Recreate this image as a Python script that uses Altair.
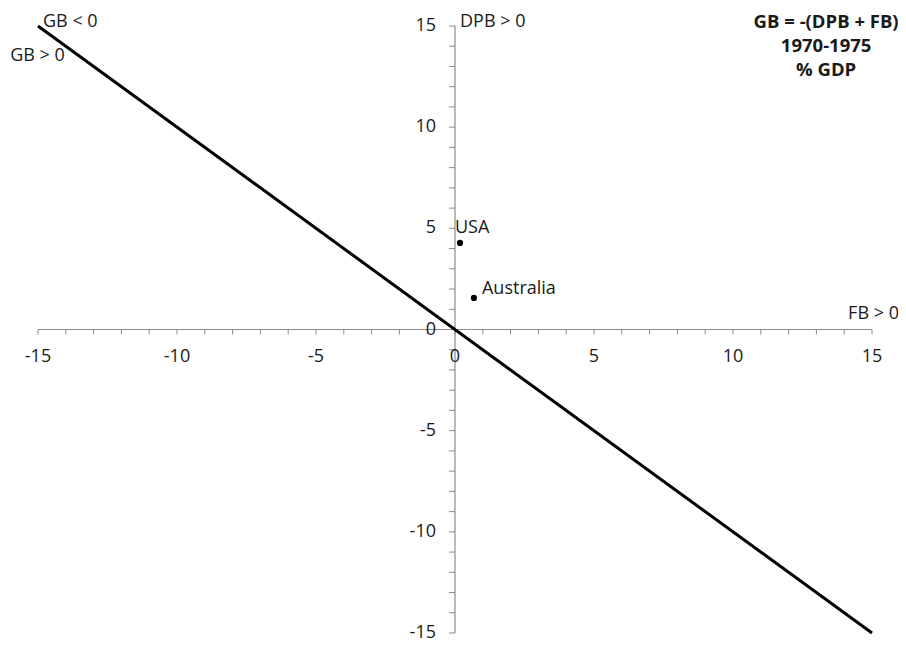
import altair as alt
import pandas as pd

# data
line_x = [-15, 15]
line_y = [15, -15]
countries = ["USA", "Australia"]
fb = [0.18, 0.68]
dpb = [4.28, 1.56]
tick_vals = list(range(-15, 16))
label_vals = [-15, -10, -5, 0, 5, 10, 15]

FONT = "Open Sans"
AXIS_COLOR = "#8c8c8c"
TXT = "#1a1a1a"

xs = alt.Scale(domain=[-15, 15], nice=False, zero=False)
ys = alt.Scale(domain=[-15, 15], nice=False, zero=False)
X = lambda f="x": alt.X(f"{f}:Q", scale=xs, axis=None)
Y = lambda f="y": alt.Y(f"{f}:Q", scale=ys, axis=None)
X2 = lambda f="x2": alt.X2(f"{f}:Q")
Y2 = lambda f="y2": alt.Y2(f"{f}:Q")

line_df = pd.DataFrame({"x": line_x, "y": line_y})
pts_df = pd.DataFrame({"country": countries, "x": fb, "y": dpb})
xt_df = pd.DataFrame({"x": tick_vals, "y": [0] * len(tick_vals)})
yt_df = pd.DataFrame({"x": [0] * len(tick_vals), "y": tick_vals})
xl_df = pd.DataFrame({"x": label_vals, "y": [0] * len(label_vals), "t": [str(v) for v in label_vals]})
yl_df = pd.DataFrame({"x": [0] * len(label_vals), "y": label_vals, "t": [str(v) for v in label_vals]})
axes_df = pd.DataFrame({"x": [-15, 0], "x2": [15, 0], "y": [0, -15], "y2": [0, 15]})

axes = alt.Chart(axes_df).mark_rule(color=AXIS_COLOR, strokeWidth=1.2).encode(
    x=X(), x2=X2(), y=Y(), y2=Y2())

xticks = alt.Chart(xt_df).mark_rule(color=AXIS_COLOR, strokeWidth=1, y2Offset=5).encode(
    x=X(), y=Y(), y2=Y2("y"))
yticks = alt.Chart(yt_df).mark_rule(color=AXIS_COLOR, strokeWidth=1, x2Offset=-6).encode(
    x=X(), x2=X2("x"), y=Y())

xlabels = alt.Chart(xl_df).mark_text(font=FONT, fontSize=18, color=TXT,
                                      baseline="middle", align="center", dy=27).encode(
    x=X(), y=Y(), text="t:N")
ylabels = alt.Chart(yl_df).mark_text(font=FONT, fontSize=18, color=TXT,
                                      baseline="middle", align="right", dx=-19).encode(
    x=X(), y=Y(), text="t:N")

gb_line = alt.Chart(line_df).mark_line(color="black", strokeWidth=3).encode(x=X(), y=Y())

points = alt.Chart(pts_df).mark_circle(color="black", opacity=1, size=38).encode(x=X(), y=Y())

notes_left = pd.DataFrame({
    "t": ["GB < 0", "GB > 0", "DPB > 0", "FB > 0", "USA", "Australia"],
    "x": [-14.82, -16.0, 0.18, 14.14, 0.0, 0.97],
    "y": [15.2, 13.5, 15.2, 0.77, 5.0, 2.0],
})
notes_title = pd.DataFrame({
    "t": ["GB = -(DPB + FB)", "1970-1975", "% GDP"],
    "x": [13.35, 13.35, 13.35],
    "y": [15.2, 14.01, 12.83],
})

left_txt = alt.Chart(notes_left).mark_text(font=FONT, fontSize=18, color=TXT,
                                            align="left", baseline="middle").encode(
    x=X(), y=Y(), text="t:N")
title_txt = alt.Chart(notes_title).mark_text(font=FONT, fontSize=18.5, color=TXT, fontWeight="bold",
                                              align="center", baseline="middle").encode(
    x=X(), y=Y(), text="t:N")

chart = alt.layer(axes, xticks, yticks, xlabels, ylabels, gb_line, points, left_txt, title_txt).properties(
    width=834, height=607,
    autosize=alt.AutoSizeParams(type="none"),
    padding={"left": 30, "top": 18, "right": 26, "bottom": 10},
).configure(background="white").configure_view(stroke=None, strokeWidth=0)

chart.save("out.html", embed_options={"renderer": "svg", "actions": False})
